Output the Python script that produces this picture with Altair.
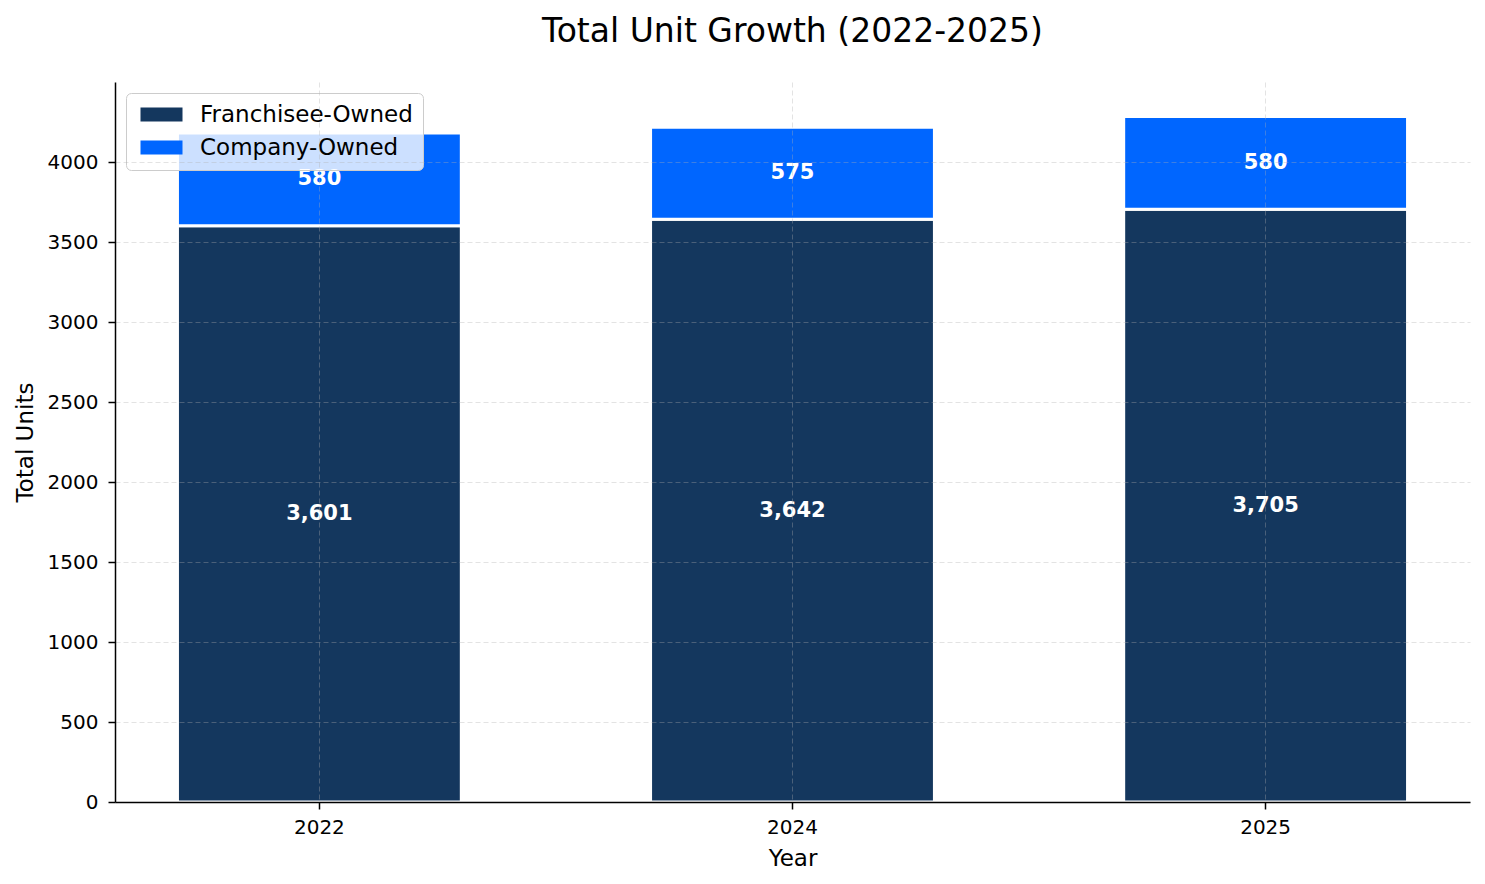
import pandas as pd
import altair as alt

years = ["2022", "2024", "2025"]
franchisee = [3601, 3642, 3705]
company = [580, 575, 580]
segments = ["Franchisee-Owned", "Company-Owned"]
colors = ["#14375E", "#0066FF"]
y_ticks = [0, 500, 1000, 1500, 2000, 2500, 3000, 3500, 4000]

rows = []
for i, yr in enumerate(years):
    rows.append({"Year": yr, "Type": segments[0], "idx": 0, "Units": franchisee[i]})
    rows.append({"Year": yr, "Type": segments[1], "idx": 1, "Units": company[i]})
df = pd.DataFrame(rows)

grid_style = dict(grid=True, gridDash=[5, 3], gridColor="#b0b0b0", gridOpacity=0.35,
                  domainColor="black", tickColor="black", tickSize=7, domainWidth=1.5,
                  tickWidth=1.5, labelFontSize=20, titleFontSize=23,
                  titleFontWeight="normal", labelColor="black", titleColor="black", zindex=1)

x_enc = alt.X("Year:N", sort=years,
              scale=alt.Scale(paddingInner=0.4, paddingOuter=0.132),
              axis=alt.Axis(title="Year", labelAngle=0, labelPadding=8, titlePadding=10, **grid_style))

base = alt.Chart(df).transform_stack(
    stack="Units", groupby=["Year"], sort=[alt.SortField("idx", "ascending")], as_=["lo", "hi"]
).transform_calculate(mid="(datum.lo + datum.hi) / 2")

bars = base.mark_bar(stroke="white", strokeWidth=3).encode(
    x=x_enc,
    y=alt.Y("lo:Q", scale=alt.Scale(domain=[0, 4500], nice=False),
            axis=alt.Axis(title="Total Units", values=y_ticks, format="d", labelPadding=10,
                          titlePadding=10, **grid_style)),
    y2="hi:Q",
    color=alt.Color("Type:N", scale=alt.Scale(domain=segments, range=colors),
                    legend=alt.Legend(title=None, orient="none", legendX=11, legendY=11,
                                      symbolType="M-1,-1L5,-1L5,1L-1,1Z", symbolSize=196,
                                      symbolStrokeWidth=0, symbolOpacity=1,
                                      labelFontSize=23, labelOffset=41, labelLimit=400,
                                      rowPadding=9, padding=10,
                                      fillColor="rgba(255,255,255,0.8)",
                                      strokeColor="#cccccc", cornerRadius=5, labelColor="black")),
)

labels = base.mark_text(color="white", fontWeight="bold", fontSize=21, baseline="middle").encode(
    x=alt.X("Year:N", sort=years),
    y=alt.Y("mid:Q"),
    text=alt.Text("Units:Q", format=","),
)

chart = alt.layer(bars, labels).properties(
    width=1355,
    height=720,
    autosize=alt.AutoSizeParams(type="none"),
    padding={"left": 107, "top": 74, "right": 7, "bottom": 74},
    title=alt.TitleParams("Total Unit Growth (2022-2025)", fontSize=33, fontWeight="normal",
                          anchor="middle", offset=33, color="black"),
).configure(font="DejaVu Sans").configure_view(strokeWidth=0)

chart.save("out.html", embed_options={"renderer": "svg", "actions": False})
